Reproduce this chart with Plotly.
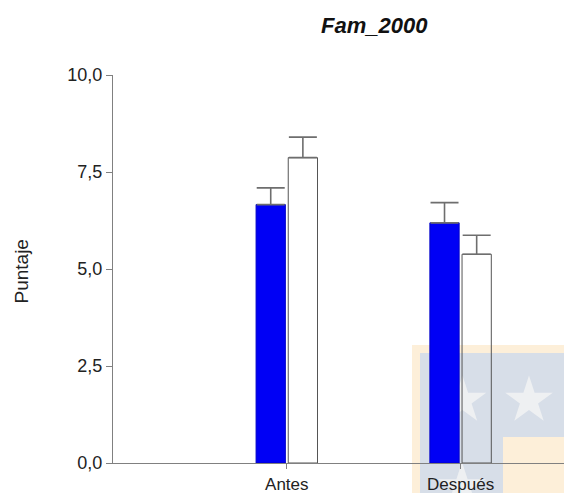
import math
import plotly.graph_objects as go

categories = ["Antes", "Después"]
blue_values = [6.66, 6.19]
blue_err = [0.43, 0.52]
white_values = [7.87, 5.38]
white_err = [0.53, 0.49]
y_ticks = [0, 2.5, 5, 7.5, 10]
title_text = "Fam_2000"
y_title = "Puntaje"

W, H = 564, 493
PL, PR, PT, PB = 113, 564, 75, 463  # plot area in window pixels
L, T, R, B = PL, PT, W - PR, H - PB
pw, ph = PR - PL, PB - PT

def px(x):
    return (x - PL) / pw

def py(y):
    return (PB - y) / ph

FONT = "Liberation Sans, Arial, sans-serif"

fig = go.Figure()
fig.add_trace(go.Bar(
    x=categories, y=blue_values, name="A",
    marker=dict(color="#0000f5", line=dict(color="#0000c8", width=1)),
    error_y=dict(type="data", array=blue_err, symmetric=False, arrayminus=[0, 0],
                 color="#6e6e6e", thickness=1.6, width=14),
))
fig.add_trace(go.Bar(
    x=categories, y=white_values, name="B",
    marker=dict(color="rgba(255,255,255,0)", line=dict(color="#555555", width=1)),
    error_y=dict(type="data", array=white_err, symmetric=False, arrayminus=[0, 0],
                 color="#6e6e6e", thickness=1.6, width=14),
))

# watermark-like logo in lower right (decorative, paper coordinates)
shapes = []
shapes.append(dict(type="rect", xref="paper", yref="paper", layer="below",
                   x0=px(412), x1=px(564), y0=py(493), y1=py(345),
                   fillcolor="#fdefd9", line=dict(width=0)))
shapes.append(dict(type="rect", xref="paper", yref="paper", layer="below",
                   x0=px(420), x1=px(564), y0=py(493), y1=py(353),
                   fillcolor="#d7dee8", line=dict(width=0)))
shapes.append(dict(type="rect", xref="paper", yref="paper", layer="below",
                   x0=px(503), x1=px(564), y0=py(493), y1=py(437),
                   fillcolor="#fdefd9", line=dict(width=0)))

def star_path(cx, cy, r):
    pts = []
    for i in range(10):
        ang = -math.pi / 2 + i * math.pi / 5
        rr = r if i % 2 == 0 else r * 0.382
        pts.append((px(cx + rr * math.cos(ang)), py(cy + rr * math.sin(ang))))
    return "M " + " L ".join(f"{a:.5f},{b:.5f}" for a, b in pts) + " Z"

for (cx, cy) in [(462.5, 400.5), (529, 400.5), (462, 487)]:
    shapes.append(dict(type="path", xref="paper", yref="paper", layer="below",
                       path=star_path(cx, cy, 25), fillcolor="#eef0f2",
                       line=dict(width=0)))

fig.update_layout(
    width=W, height=H,
    margin=dict(l=L, r=R, t=T, b=B, autoexpand=False),
    paper_bgcolor="white", plot_bgcolor="rgba(0,0,0,0)",
    separators=",.",
    barmode="group", bargap=0.63, bargroupgap=0.09,
    showlegend=False,
    font=dict(family=FONT, size=17, color="#222222"),
    shapes=shapes,
    xaxis=dict(range=[-1.0, 1.595], showline=True, linecolor="#808080", linewidth=1.3,
               ticks="outside", ticklen=5, tickcolor="#808080", tickwidth=1.3,
               showgrid=False, zeroline=False, automargin=False,
               tickfont=dict(size=17, color="#222222")),
    yaxis=dict(range=[0, 10], tickvals=y_ticks, tickformat=".1f",
               showline=True, linecolor="#808080", linewidth=1.3,
               ticks="outside", ticklen=6, tickcolor="#808080", tickwidth=1.3,
               showgrid=False, zeroline=False, automargin=False,
               tickfont=dict(size=18, color="#222222")),
    annotations=[
        dict(text="<b><i>" + title_text + "</i></b>", xref="paper", yref="paper",
             x=px(374.5), y=py(25), xanchor="center", yanchor="middle",
             showarrow=False, font=dict(family=FONT, size=22, color="#111111")),
        dict(text=y_title, xref="paper", yref="paper", textangle=-90,
             x=px(21), y=py(271.5), xanchor="center", yanchor="middle",
             showarrow=False, font=dict(family=FONT, size=19, color="#222222")),
    ],
)

fig.write_html(
    "out.html",
    config={"displayModeBar": False},
    post_script="document.body.style.margin='0';document.body.style.overflow='hidden';",
)
